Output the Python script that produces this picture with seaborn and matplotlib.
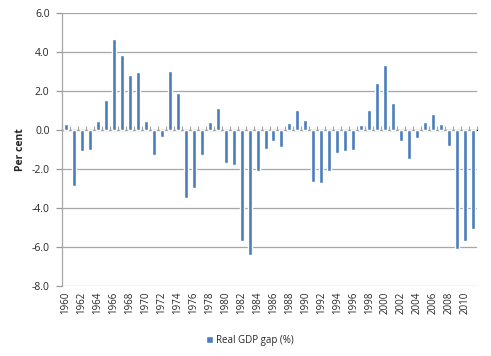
import matplotlib
matplotlib.use("Agg")
import matplotlib.pyplot as plt
import seaborn as sns
import pandas as pd
from matplotlib.patches import Patch

years = list(range(1960, 2012))
gdp_gap = [0.3, -2.85, -1.1, -1.0, 0.45, 1.55, 4.65, 3.85, 2.8, 3.0,
           0.45, -1.3, -0.35, 3.05, 1.9, -3.5, -2.95, -1.3, 0.4, 1.15,
           -1.7, -1.8, -5.7, -6.4, -2.1, -0.95, -0.55, -0.85, 0.35, 1.05,
           0.5, -2.65, -2.7, -2.1, -1.2, -1.1, -1.0, 0.25, 1.05, 2.4,
           3.35, 1.4, -0.55, -1.5, -0.4, 0.4, 0.8, 0.3, -0.8, -6.1,
           -5.7, -5.1]
yticks = [-8.0, -6.0, -4.0, -2.0, 0.0, 2.0, 4.0, 6.0]
series_name = "Real GDP gap (%)"

df = pd.DataFrame({"year": [str(y) for y in years], "gap": gdp_gap})

sns.set_style("white")
plt.rcParams["font.family"] = ["Open Sans", "DejaVu Sans"]
plt.rcParams["ytick.left"] = True
plt.rcParams["ytick.major.size"] = 4

fig = plt.figure(figsize=(4.91, 3.56), dpi=100)
ax = fig.add_axes([62/491, 1-286/356, 415/491, 273/356])

color = "#4A7EBB"
sns.barplot(data=df, x="year", y="gap", color=color, width=0.5,
            saturation=1, ax=ax)

ax.set_ylim(-8, 6)
ax.set_xlim(-0.5, len(years) - 0.5)
ax.set_yticks(yticks)
ax.set_yticklabels([f"{v:.1f}" for v in yticks], fontsize=7.5)
ax.yaxis.grid(True, color="#A6A6A6", linewidth=0.9)
ax.set_axisbelow(True)

pos = list(range(0, len(years), 2))
ax.set_xticks(pos)
ax.set_xticklabels([str(years[i]) for i in pos], rotation=90, fontsize=7)
ax.tick_params(axis="x", length=0, pad=4)
ax.tick_params(axis="y", which="major", length=4, width=0.9, color="#999999",
               direction="out", left=True, pad=5)

for s in ["top", "right", "bottom"]:
    ax.spines[s].set_visible(False)
ax.spines["left"].set_color("#A6A6A6")
ax.spines["left"].set_linewidth(0.9)

# zero-line category axis with tick marks
sec = ax.secondary_xaxis(8/14)
sec.set_xticks([i - 0.5 for i in range(len(years) + 1)])
sec.set_xticklabels([])
sec.tick_params(axis="x", length=3, color="#A6A6A6", width=0.8, direction="out")
sec.spines["bottom"].set_color("#A6A6A6")
sec.spines["bottom"].set_linewidth(0.9)

ax.set_xlabel("")
ax.set_ylabel("Per cent", fontsize=7.5, fontweight="bold", labelpad=4)

fig.legend(handles=[Patch(facecolor=color, label=series_name)],
           loc="center", bbox_to_anchor=(250/491, 1-340/356), frameon=False,
           fontsize=7, handlelength=0.7, handleheight=0.7, handletextpad=0.4)

fig.savefig("out.png", dpi=100)
